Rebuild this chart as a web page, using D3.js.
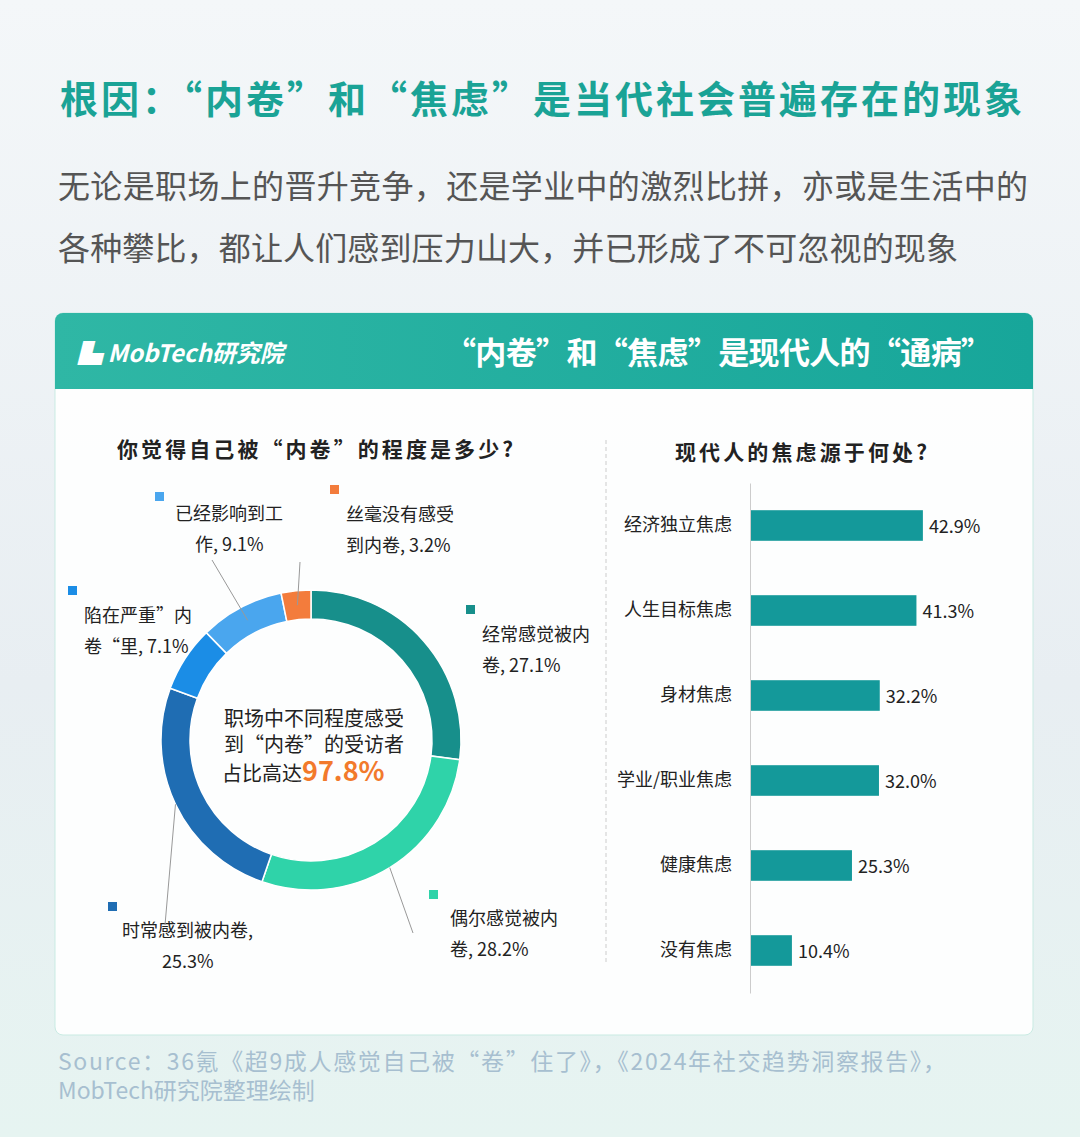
<!DOCTYPE html>
<html><head><meta charset="utf-8">
<script src="https://cdn.jsdelivr.net/npm/d3@7"></script>
<style>
body{margin:0;background:#fff;}
text{font-family:"Noto Sans CJK SC","Noto Sans",sans-serif;}
</style></head>
<body><div id="container"></div>
<script>
"use strict";

const pieValues = [27.1, 28.2, 25.3, 7.1, 9.1, 3.2];
const pieColors = ["#178f8b", "#2fd3a9", "#1f6db3", "#1b8de6", "#4aa6ee", "#f37c3c"];
const pieLines = [["经常感觉被内", "卷, 27.1%"], ["偶尔感觉被内", "卷, 28.2%"], ["时常感到被内卷,", "25.3%"], ["陷在严重”内", "卷“里, 7.1%"], ["已经影响到工", "作, 9.1%"], ["丝毫没有感受", "到内卷, 3.2%"]];
const labelPos = [[482, 641, 466, 605, 0], [450, 925, 429, 890, 0], [122, 937, 108, 902, 40], [84, 622, 68, 586, 0], [175, 520, 155, 492, 20], [346, 521, 330, 485, 0]];
const leaderEnd = [null, [413, 933], [165, 925], null, [212, 560], [300, 562]];

const barCats = ["经济独立焦虑", "人生目标焦虑", "身材焦虑", "学业/职业焦虑", "健康焦虑", "没有焦虑"];
const barValues = [42.9, 41.3, 32.2, 32.0, 25.3, 10.4];

const W = 1080, H = 1137;
const svg = d3.select("#container").append("svg").attr("width", W).attr("height", H);
const defs = svg.append("defs");
const bg = defs.append("linearGradient").attr("id", "bg").attr("x1", 0).attr("y1", 0).attr("x2", 0).attr("y2", 1);
bg.append("stop").attr("offset", 0).attr("stop-color", "#f4f7f9");
bg.append("stop").attr("offset", 0.6).attr("stop-color", "#e8eef2");
bg.append("stop").attr("offset", 1).attr("stop-color", "#e6f4f1");
svg.append("rect").attr("width", W).attr("height", H).attr("fill", "url(#bg)");

const hd = defs.append("linearGradient").attr("id", "hd").attr("x1", 0).attr("y1", 0).attr("x2", 1).attr("y2", 0);
hd.append("stop").attr("offset", 0).attr("stop-color", "#2fb7a5");
hd.append("stop").attr("offset", 1).attr("stop-color", "#17a69a");

svg.append("text").attr("x", 60).attr("y", 113).attr("font-size", 38).attr("font-weight", 700)
  .attr("textLength", 962).attr("fill", "#1aa396").text("根因：“内卷”和“焦虑”是当代社会普遍存在的现象");
svg.append("text").attr("x", 58).attr("y", 198).attr("font-size", 32).attr("fill", "#555")
  .attr("textLength", 970).text("无论是职场上的晋升竞争，还是学业中的激烈比拼，亦或是生活中的");
svg.append("text").attr("x", 58).attr("y", 260).attr("font-size", 32).attr("fill", "#555")
  .attr("textLength", 900).text("各种攀比，都让人们感到压力山大，并已形成了不可忽视的现象");

// card
svg.append("rect").attr("x", 55).attr("y", 313).attr("width", 978).attr("height", 722).attr("rx", 8)
  .attr("fill", "#fff").attr("fill-opacity", 0.9).attr("stroke", "#c9ebe3");
svg.append("path").attr("d", "M55,321 a8,8 0 0 1 8,-8 h962 a8,8 0 0 1 8,8 v68 h-978 z").attr("fill", "url(#hd)");
svg.append("text").attr("x", 78).attr("y", 362).attr("font-size", 24).attr("font-weight", 700)
  .attr("font-style", "italic").attr("fill", "#fff").text("▙ MobTech研究院");
svg.append("text").attr("x", 445).attr("y", 364).attr("font-size", 31)
  .attr("textLength", 547).attr("font-weight", 700).attr("fill", "#fff").text("“内卷”和“焦虑”是现代人的“通病”");

svg.append("line").attr("x1", 606).attr("x2", 606).attr("y1", 440).attr("y2", 965)
  .attr("stroke", "#ccc").attr("stroke-dasharray", "4,3");

// donut
svg.append("text").attr("x", 315).attr("y", 457).attr("text-anchor", "middle").attr("font-size", 21)
  .attr("textLength", 396).attr("font-weight", 700).attr("fill", "#222").text("你觉得自己被“内卷”的程度是多少?");
const cx = 311, cy = 740;
const pie = d3.pie().sort(null).value(d => d)(pieValues);
const arc = d3.arc().innerRadius(121).outerRadius(150);
const g = svg.append("g").attr("transform", `translate(${cx},${cy})`);
g.selectAll("path").data(pie).enter().append("path").attr("d", arc)
  .attr("fill", (d, i) => pieColors[i]).attr("stroke", "#fff").attr("stroke-width", 1.5);

const outer = d3.arc().innerRadius(150).outerRadius(150);
pie.forEach((d, i) => {
  const lp = labelPos[i];
  svg.append("rect").attr("x", lp[2]).attr("y", lp[3]).attr("width", 9).attr("height", 9).attr("fill", pieColors[i]);
  pieLines[i].forEach((t, k) => {
    svg.append("text").attr("x", lp[0] + (k === 1 ? lp[4] : 0)).attr("y", lp[1] + k * 31)
      .attr("font-size", 18).attr("fill", "#222").text(t);
  });
  if (leaderEnd[i]) {
    const c = (i === 1 || i === 2) ? outer.centroid(d) : arc.centroid(d);
    svg.append("line").attr("x1", cx + c[0]).attr("y1", cy + c[1])
      .attr("x2", leaderEnd[i][0]).attr("y2", leaderEnd[i][1]).attr("stroke", "#999");
  }
});
svg.append("text").attr("x", 314).attr("y", 726).attr("text-anchor", "middle").attr("font-size", 20).attr("fill", "#222").text("职场中不同程度感受");
svg.append("text").attr("x", 314).attr("y", 752).attr("text-anchor", "middle").attr("font-size", 20).attr("fill", "#222").text("到“内卷”的受访者");
const t3 = svg.append("text").attr("x", 222).attr("y", 781).attr("font-size", 20).attr("fill", "#222").text("占比高达");
t3.append("tspan").attr("font-size", 27).attr("font-weight", 700).attr("fill", "#f27a2c").text("97.8%");

// bars
svg.append("text").attr("x", 801).attr("y", 460).attr("text-anchor", "middle").attr("font-size", 21)
  .attr("textLength", 252).attr("font-weight", 700).attr("fill", "#222").text("现代人的焦虑源于何处?");
const x = d3.scaleLinear().domain([0, 50]).range([750, 951.5]);
const y = d3.scaleBand().domain(barCats).range([483, 993]).paddingInner(0.64).paddingOuter(0.32);
const bg2 = svg.append("g");
bg2.selectAll("rect").data(barValues).enter().append("rect")
  .attr("x", x(0)).attr("y", (d, i) => y(barCats[i])).attr("width", d => x(d) - x(0))
  .attr("height", y.bandwidth()).attr("fill", "#14999a");
bg2.selectAll("text.v").data(barValues).enter().append("text")
  .attr("x", d => x(d) + 6).attr("y", (d, i) => y(barCats[i]) + y.bandwidth() / 2 + 7)
  .attr("font-size", 18).attr("fill", "#222").text(d => d.toFixed(1) + "%");
const ax = svg.append("g").attr("transform", `translate(${x(0)},0)`)
  .call(d3.axisLeft(y).tickSize(0).tickPadding(18));
ax.select(".domain").attr("stroke", "#ccc");
ax.selectAll("text").attr("font-size", 18).attr("fill", "#222")
  .style("font-family", "\"Noto Sans CJK SC\",sans-serif");

svg.append("text").attr("x", 58).attr("y", 1070).attr("font-size", 23).attr("fill", "#a7bfd0")
  .attr("textLength", 888).text("Source：36氪《超9成人感觉自己被“卷”住了》，《2024年社交趋势洞察报告》，");
svg.append("text").attr("x", 58).attr("y", 1099).attr("font-size", 23).attr("fill", "#a7bfd0")
  .text("MobTech研究院整理绘制");
</script></body></html>
